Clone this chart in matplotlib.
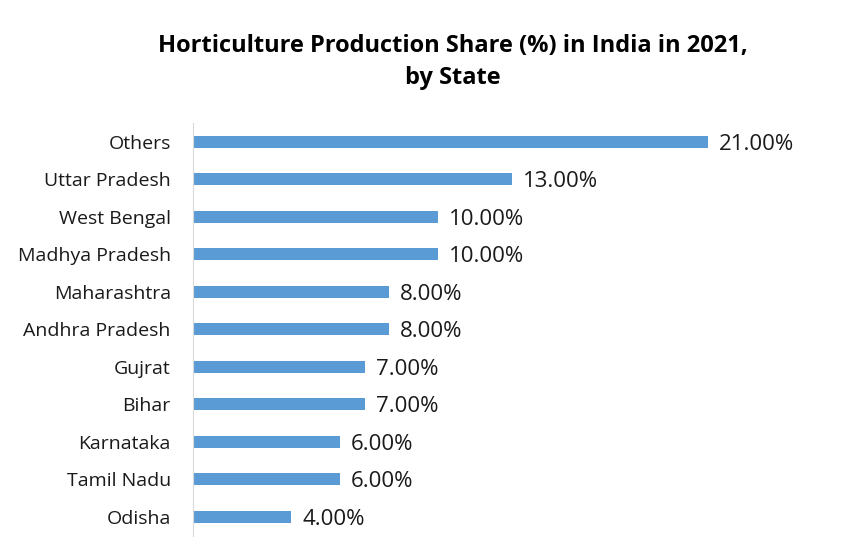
import matplotlib.pyplot as plt

plt.rcParams['font.family'] = ['Open Sans', 'DejaVu Sans']

states = ["Others", "Uttar Pradesh", "West Bengal", "Madhya Pradesh", "Maharashtra",
          "Andhra Pradesh", "Gujrat", "Bihar", "Karnataka", "Tamil Nadu", "Odisha"]
share = [21, 13, 10, 10, 8, 8, 7, 7, 6, 6, 4]

fig = plt.figure(figsize=(8.44, 5.46), dpi=100)
ax = fig.add_axes([193 / 844, 1 - 535.5 / 546, 637 / 844, 412.5 / 546])

pos = list(range(len(states)))
ax.barh(pos, share, height=0.33, color="#5b9bd5")
ax.set_ylim(len(states) - 0.5, -0.5)
ax.set_xlim(0, 26)
ax.set_yticks(pos)
ax.set_yticklabels(states, fontsize=14, color="#1a1a1a")
ax.tick_params(axis="y", length=0, pad=16)
ax.set_xticks([])
for s in ["top", "right", "bottom"]:
    ax.spines[s].set_visible(False)
ax.spines["left"].set_color("#d9d9d9")

for p, v in zip(pos, share):
    ax.text(v + 0.45, p, "{:.2f}%".format(v), va="center_baseline", ha="left",
            fontsize=16, color="#1a1a1a")

fig.text(0.536, 0.886, "Horticulture Production Share (%) in India in 2021,\nby State",
         ha="center", va="center", fontsize=17, fontweight="bold",
         linespacing=1.42, color="#000000")

fig.savefig("out.png", dpi=100)
